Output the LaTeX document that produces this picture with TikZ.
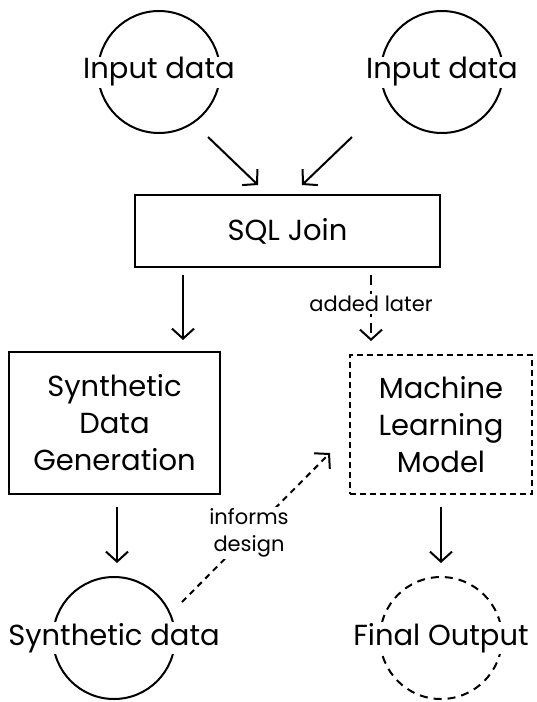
\documentclass[tikz,border=0pt]{standalone}
\usepackage{fontspec}
\setmainfont{Poppins}
\usetikzlibrary{arrows.meta}
\begin{document}
\begin{tikzpicture}[x=1pt,y=-1pt,
  line width=2pt,
  arr/.style={-{Straight Barb[length=10pt,width=22pt,line width=2pt]}},
  box/.style={draw,inner sep=0pt},
  ring/.style={draw,circle,minimum size=122pt,inner sep=0pt},
  txt/.style={fill=white,inner sep=1pt,font=\fontsize{29}{36}\selectfont},
  boxtxt/.style={align=center,font=\fontsize{29}{37}\selectfont},
  lbl/.style={fill=white,inner sep=2pt,align=center,font=\fontsize{21}{27}\selectfont},
  dashbox/.style={dash pattern=on 6pt off 4pt},
  dashring/.style={dash pattern=on 8pt off 6pt},
  dotline/.style={dash pattern=on 6pt off 5pt}]
\useasboundingbox (0,0) rectangle (536,702);

% input circles
\node[ring] (in1) at (159,72) {};
\node[txt] (in1t) at (159,72) {Input data};
\node[ring] (in2) at (442,72) {};
\node[txt] (in2t) at (442,72) {Input data};

% SQL join
\node[box,minimum width=305pt,minimum height=72pt] (sql) at (287.5,231) {};
\node[boxtxt] at (sql.center) {SQL Join};

% synthetic data generation
\node[box,minimum width=211pt,minimum height=142pt] (gen) at (114.5,423) {};
\node[boxtxt] at (gen.center) {Synthetic\\Data\\Generation};

% machine learning model
\node[box,dashbox,minimum width=182pt,minimum height=139pt] (ml) at (441,424.5) {};
\node[boxtxt] at (ml.center) {Machine\\Learning\\Model};

% output circles
\node[ring] (syn) at (114,638) {};
\node[txt] (synt) at (114,638) {Synthetic data};
\node[ring,dashring] (fin) at (441,638) {};
\node[txt] (fint) at (441,638) {Final Output};

% connector end points
\coordinate (a1s) at (208,137); \coordinate (a1e) at (258,185);
\coordinate (a2s) at (352,137); \coordinate (a2e) at (302,185);
\coordinate (a3s) at (183,275); \coordinate (a3e) at (183,340);
\coordinate (a4s) at (371,275); \coordinate (a4e) at (371,341);
\coordinate (a5s) at (117,507); \coordinate (a5e) at (117,563);
\coordinate (a6s) at (441,507); \coordinate (a6e) at (441,563);
\coordinate (a7s) at (182,602); \coordinate (a7e) at (330,453);

\draw[arr] (a1s) -- (a1e);
\draw[arr] (a2s) -- (a2e);
\draw[arr] (a3s) -- (a3e);
\draw[arr,dash pattern=on 10pt off 6pt] (a4s) -- (a4e);
\node[lbl] (later) at (371,304) {added later};
\draw[arr] (a5s) -- (a5e);
\draw[arr] (a6s) -- (a6e);
\draw[arr,dotline] (a7s) -- (a7e);
\node[lbl] (inf) at (249,533) {informs\\design};
\end{tikzpicture}
\end{document}
